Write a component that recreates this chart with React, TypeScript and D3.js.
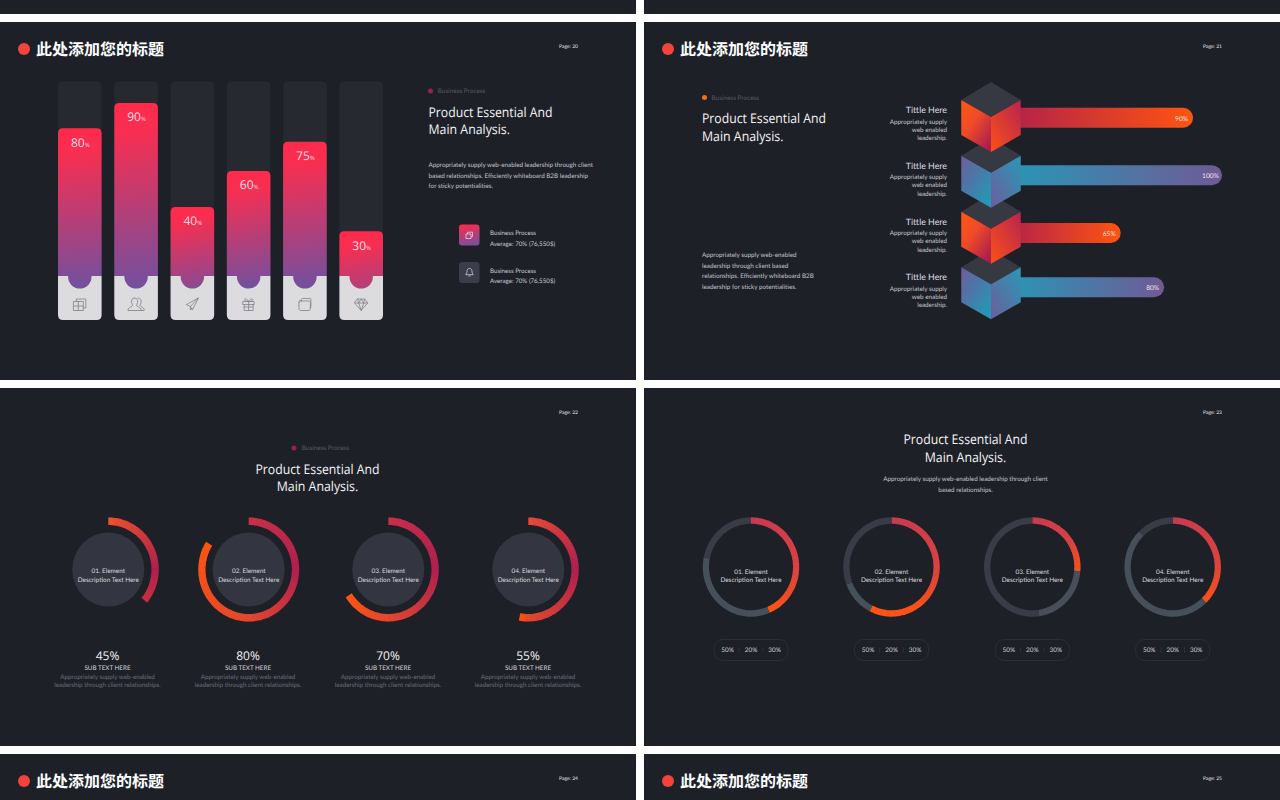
import React from "react";
import * as d3 from "d3";

const panelTitle = "此处添加您的标题";
const pageLabels = ["Page: 20", "Page: 21", "Page: 22", "Page: 23", "Page: 24", "Page: 25"];
const headline = ["Product Essential And", "Main Analysis."];
const eyebrow = "Business Process";

// Slide 20: column chart
const columnLabels = ["80", "90", "40", "60", "75", "30"];
const columnLevels = [76, 89, 35.5, 54, 69, 23];
const introLines = [
  "Appropriately supply web-enabled leadership through client",
  "based relationships. Efficiently whiteboard B2B leadership",
  "for sticky potentialities.",
];
const legendLines = ["Business Process", "Average: 70% (76,550$)"];

// Slide 21: cube bars
const cubeValues = [90, 100, 65, 80];
const cubeTitle = "Tittle Here";
const cubeDesc = ["Appropriately supply", "web enabled", "leadership."];
const sideLines = [
  "Appropriately supply web-enabled",
  "leadership through client based",
  "relationships. Efficiently whiteboard B2B",
  "leadership for sticky potentialities.",
];

// Slide 22: radial rings
const elementNames = ["01. Element", "02. Element", "03. Element", "04. Element"];
const elementDesc = "Description Text Here";
const ringLabels = ["45%", "80%", "70%", "55%"];
const ringSweeps = [36, 84, 66, 53];
const ringStartColors = ["#f2512c", "#cc3049", "#c8304a", "#e84a38"];
const subHead = "SUB TEXT HERE";
const subLines = ["Appropriately supply web-enabled", "leadership through client relationships."];

// Slide 23: segmented rings
const shareRed = [43.7, 57.5, 26.4, 37.8];
const shareSlate = [34.4, 11.8, 21.3, 49.9];
const shareDark = [21.9, 30.7, 52.3, 12.3];
const pillLabels = ["50%", "20%", "30%"];
const slide23Desc = ["Appropriately supply web-enabled leadership through client", "based relationships."];

const SANS = "'Open Sans','Noto Sans',sans-serif";
const LATO = "Lato,'Noto Sans',sans-serif";
const CJK = "'Noto Sans CJK SC','Noto Sans',sans-serif";
const BG = "#1e2028";
const HEAD_WIDTHS = [124, 81.5];

const Heading = ({ x, y }: { x: number; y: number }) => (
  <g>
    <circle cx={x + 6} cy={y} r={6} fill="#f4433c" />
    <text x={x + 18} y={y + 5.6} fontFamily={CJK} fontWeight={700} fontSize={16} fill="#fff">
      {panelTitle}
    </text>
  </g>
);

const Page = ({ x, y, t }: { x: number; y: number; t: string }) => (
  <text x={x} y={y} fontFamily={LATO} fontSize={5} fill="#e8e8ea">
    {t}
  </text>
);

const Head = ({ x, y, anchor = "start" }: { x: number; y: number; anchor?: string }) => (
  <g fontFamily={SANS} fontSize={13.4} fill="#f4f4f5" textAnchor={anchor}>
    {headline.map((t, i) => (
      <text key={i} x={x} y={y + i * 17.5} textLength={HEAD_WIDTHS[i]} lengthAdjust="spacingAndGlyphs">
        {t}
      </text>
    ))}
  </g>
);

const Eyebrow = ({ dx, x, y, color }: { dx: number; x: number; y: number; color: string }) => (
  <g>
    <circle cx={dx} cy={y} r={2.5} fill={color} />
    <text x={x} y={y + 2.2} fontFamily={LATO} fontSize={6.4} fill="#565965">
      {eyebrow}
    </text>
  </g>
);

const lerpStops = (stops: [number, string][]) =>
  d3.scaleLinear<string>().domain(stops.map((d) => d[0])).range(stops.map((d) => d[1])).interpolate(d3.interpolateRgb).clamp(true);

const GradientArc = ({
  cx, cy, r0, r1, from, to, color, sx = 1, sy = 1,
}: { cx: number; cy: number; r0: number; r1: number; from: number; to: number; color: (deg: number) => string; sx?: number; sy?: number }) => {
  const steps = Math.max(2, Math.ceil((to - from) / 3));
  const arc = d3.arc();
  const pieces = d3.range(steps).map((i) => {
    const a = from + ((to - from) * i) / steps;
    const b = from + ((to - from) * (i + 1)) / steps;
    const d = arc({
      innerRadius: r0,
      outerRadius: r1,
      startAngle: (a * Math.PI) / 180,
      endAngle: ((i === steps - 1 ? b : b + 0.6) * Math.PI) / 180,
    } as any) as string;
    return <path key={i} d={d} fill={color((a + b) / 2)} />;
  });
  return <g transform={`translate(${cx},${cy}) scale(${sx},${sy})`}>{pieces}</g>;
};

const Icon = ({ i, x, y }: { i: number; x: number; y: number }) => {
  const common = { fill: "none", stroke: "#80828a", strokeWidth: 0.8, strokeLinejoin: "round" as const, strokeLinecap: "round" as const };
  const paths = [
    "M-6,-2.5h9.5v9h-9.5zM-3.5,-2.5v-2.5h9.5v9h-2.5M-6,2h9.5M-1.5,-2.5v9",
    "M-1.5,-6c-2.5,0-3.5,2-3,4.5c.3,1.4 1,2 1,3c0,1-3,1.5-4.5,3.500v1.500h13v-1.500c-1.500-2-4.500-2.500-4.500-3.500c0-1 .7-1.600 1-3c.5-2.500-.5-4.500-3-4.500M2,-6c2.500,0 3.500,2 3,4.500c-.3,1.400-1,2-1,3c0,1 3,1.500 4,3.500v1.500h-3",
    "M6,-6L-6,0.5L-2,2.500L6,-6L0,6L-2,2.500V6L0,4",
    "M-5.500,-2.500h11v3h-11zM-4.500,.5v6h9v-6M0,-2.500v9M-4.500,3h9M0,-2.500c-1.500-3-4.500-3.500-4-1.500c.2,1 2.500,1.500 4,1.500c1.500,0 3.800-.5 4-1.500c.5-2-2.500-1.500-4,1.500",
    "M-6,-1.500c0-1 .5-1.500 1.500-1.500h8.500c1 0 1.500.5 1.500 1.500v6c0 1-.5 2-2 2h-8c-1 0-1.500-1-1.500-2zM-6,-1.500l1-2h1M-3.500,-3v-1.500c0-.5.5-1 1-1h8c.5 0 .5.500.5 1v7c0 1-.5 1.500-1 1.500",
    "M-3.500,-5h7l3,4L0,6.500L-6.500,-1zM-6.500,-1h13M-3.500,-5L-2.500,-1L0,6.500L2.500,-1L3.500,-5M-2.500,-1L0,-5L2.500,-1",
  ];
  return (
    <g transform={`translate(${x},${y})`} {...common}>
      <path d={paths[i]} />
    </g>
  );
};

const Columns = () => {
  const bandX = d3.scaleBand<number>().domain(d3.range(columnLevels.length)).range([58, 383]).paddingInner(0.225).paddingOuter(0);
  const y = d3.scaleLinear().domain([0, 100]).range([276, 81.5]);
  const bw = bandX.bandwidth();
  const r = 5;
  return (
    <g>
      <defs>
        {columnLevels.map((v, i) => {
          const top = y(v);
          const len = Math.max(y(0) - top + 12, 95);
          return (
            <linearGradient key={i} id={`col${i}`} gradientUnits="userSpaceOnUse" x1={bandX(i)! + bw * 0.3} y1={top} x2={bandX(i)! + bw * 0.7} y2={top + len}>
              <stop offset="0" stopColor="#ff2a4c" />
              <stop offset="0.15" stopColor="#f82e50" />
              <stop offset="1" stopColor="#72509f" />
            </linearGradient>
          );
        })}
      </defs>
      {columnLevels.map((v, i) => {
        const x = bandX(i)!;
        const top = y(v);
        const base = y(0);
        const mid = x + bw / 2;
        const body = `M${x},${base}V${top + r}Q${x},${top} ${x + r},${top}H${x + bw - r}Q${x + bw},${top} ${x + bw},${top + r}V${base}H${mid + 11.7}V${base + 1}A11.700,11.500 0 0 1 ${mid - 11.7},${base + 1}V${base}Z`;
        const track = `M${x},${base}V${y(100) + r}Q${x},${y(100)} ${x + r},${y(100)}H${x + bw - r}Q${x + bw},${y(100)} ${x + bw},${y(100) + r}V${base}Z`;
        const foot = `M${x},${base}H${x + bw}V${base + 44 - r}Q${x + bw},${base + 44} ${x + bw - r},${base + 44}H${x + r}Q${x},${base + 44} ${x},${base + 44 - r}Z`;
        return (
          <g key={i}>
            <path d={track} fill="#272931" />
            <path d={foot} fill="#dcdcde" />
            <path d={body} fill={`url(#col${i})`} />
            <text x={mid + 0.5} y={top + 18.5} textAnchor="middle" fontFamily={SANS} fontSize={12} fill="#f8dfe3">
              {columnLabels[i]}
              <tspan fontSize={6}>%</tspan>
            </text>
            <Icon i={i} x={mid} y={304} />
          </g>
        );
      })}
    </g>
  );
};

const LegendTile = ({ y, fill, kind }: { y: number; fill: string; kind: number }) => (
  <g>
    <rect x={459} y={y} width={20.5} height={21} rx={3} fill={fill} />
    <g transform={`translate(469.500,${y + 10.500})`} fill="none" stroke="#e8e8ea" strokeWidth={0.7}>
      <path d={kind === 0 ? "M-3.500,-1h5v4.500h-5zM-2,-1v-1.800h5v4.500h-1.500" : "M0,-4c-2,0-2.500,1.500-2.500,3c0,2-1.200,2.500-1.200,3.200h7.400c0-.7-1.200-1.200-1.200-3.200c0-1.500-.5-3-2.500-3M-1,3.500h2"} />
    </g>
    {legendLines.map((t, i) => (
      <text key={i} x={490} y={y + 10.800 + i * 10.500} fontFamily={LATO} fontSize={6.2} fill="#c9cad0">
        {t}
      </text>
    ))}
  </g>
);

const CUBE_W = 29.75;
const Cubes = () => {
  const x = d3.scaleLinear().domain([65, 100]).range([1120.7, 1222]);
  const cubeTop = [100, 155.7, 211.7, 267.3];
  const barTop = [107.7, 165.3, 223, 277.3];
  const order = d3.range(cubeValues.length).reverse();
  return (
    <g>
      <defs>
        <linearGradient id="barWarm" x1="0" x2="1" y1="0" y2="0">
          <stop offset="0" stopColor="#b0204c" />
          <stop offset="1" stopColor="#ff5410" />
        </linearGradient>
        <linearGradient id="barCool" x1="0" x2="1" y1="0" y2="0">
          <stop offset="0" stopColor="#2798b6" />
          <stop offset="1" stopColor="#6f5a95" />
        </linearGradient>
        <linearGradient id="leftWarm" x1="0" y1="0" x2="0.85" y2="1">
          <stop offset="0" stopColor="#ff5812" />
          <stop offset="0.45" stopColor="#f04a28" />
          <stop offset="1" stopColor="#a81c4e" />
        </linearGradient>
        <linearGradient id="rightWarm" x1="1" y1="0" x2="0" y2="1">
          <stop offset="0" stopColor="#b8244e" />
          <stop offset="1" stopColor="#fa5018" />
        </linearGradient>
        <linearGradient id="leftCool" x1="0" y1="0" x2="0.85" y2="1">
          <stop offset="0" stopColor="#6e5c9a" />
          <stop offset="1" stopColor="#2199b8" />
        </linearGradient>
        <linearGradient id="rightCool" x1="1" y1="0" x2="0" y2="1">
          <stop offset="0" stopColor="#2a97b6" />
          <stop offset="1" stopColor="#6c5e9a" />
        </linearGradient>
      </defs>
      {cubeValues.map((v, i) => {
        const warm = i % 2 === 0;
        return (
          <rect key={i} x={1005} y={barTop[i]} width={x(v) - 1005} height={20} rx={10} fill={warm ? "url(#barWarm)" : "url(#barCool)"} />
        );
      })}
      {order.map((i) => {
        const warm = i % 2 === 0;
        const cx = 991;
        const t = cubeTop[i];
        const h = 35;
        return (
          <g key={i}>
            <path d={`M${cx},${t - 18}L${cx + CUBE_W},${t}L${cx},${t + 17}L${cx - CUBE_W},${t}Z`} fill="#363842" />
            <path d={`M${cx - CUBE_W},${t}L${cx},${t + 17}V${t + 17 + h}L${cx - CUBE_W},${t + h}Z`} fill={warm ? "url(#leftWarm)" : "url(#leftCool)"} />
            <path d={`M${cx + CUBE_W},${t}L${cx},${t + 17}V${t + 17 + h}L${cx + CUBE_W},${t + h}Z`} fill={warm ? "url(#rightWarm)" : "url(#rightCool)"} />
          </g>
        );
      })}
      {cubeValues.map((v, i) => (
        <g key={i}>
          <text x={x(v) - 11.500} y={barTop[i] + 12.800} textAnchor="middle" fontFamily={LATO} fontSize={6.6} fill="#f3e6e2">
            {v}%
          </text>
          <g textAnchor="end" fontFamily={LATO}>
            <text x={947} y={cubeTop[i] + 13} fontSize={8.8} fill="#dcdde0">
              {cubeTitle}
            </text>
            {cubeDesc.map((t, k) => (
              <text key={k} x={947} y={cubeTop[i] + 23.500 + k * 8.200} fontSize={6.300} fill="#c6c7cc">
                {t}
              </text>
            ))}
          </g>
        </g>
      ))}
    </g>
  );
};

const Rings = () => {
  const cxs = [108.3, 248.7, 388.3, 528.3];
  const textCx = [107.5, 248, 388, 528];
  const cy = 569.5;
  const sweep = d3.scaleLinear().domain([0, 100]).range([0, 360]);
  return (
    <g>
      {ringSweeps.map((v, i) => {
        const color = lerpStops([
          [0, ringStartColors[i]],
          [90, "#b0204e"],
          [180, "#e5472e"],
          [sweep(ringSweeps[i]) > 180 ? sweep(ringSweeps[i]) : 230, "#ff5512"],
        ]);
        return (
          <g key={i}>
            <ellipse cx={cxs[i]} cy={cy} rx={36} ry={37} fill="#333540" />
            <GradientArc cx={cxs[i]} cy={cy} r0={44.500} r1={52} from={0} to={sweep(v)} color={color} sx={0.97} />
            <text x={cxs[i]} y={573} textAnchor="middle" fontFamily={LATO} fontSize={6.400} fill="#d9dade">
              {elementNames[i]}
            </text>
            <text x={cxs[i]} y={581.500} textAnchor="middle" fontFamily={LATO} fontSize={6.400} fill="#d9dade">
              {elementDesc}
            </text>
            <text x={textCx[i]} y={659.500} textAnchor="middle" fontFamily={SANS} fontSize={12} fill="#f4f4f5">
              {ringLabels[i]}
            </text>
            <text x={textCx[i]} y={669.800} textAnchor="middle" fontFamily={LATO} fontSize={6.300} fill="#d4d5d9">
              {subHead}
            </text>
            {subLines.map((t, k) => (
              <text key={k} x={textCx[i]} y={678.600 + k * 8.300} textAnchor="middle" fontFamily={LATO} fontSize={6.300} fill="#696c77">
                {t}
              </text>
            ))}
          </g>
        );
      })}
    </g>
  );
};

const Donuts = () => {
  const cxs = [751, 891.5, 1032.3, 1172.7];
  const cy = 567;
  const pie = d3.pie<number>().sort(null).value((d) => d);
  const toDeg = (a: number) => (a * 180) / Math.PI;
  return (
    <g>
      {shareRed.map((_, i) => {
        const slices = pie([shareRed[i], shareSlate[i], shareDark[i]]);
        const end = toDeg(slices[0].endAngle);
        const hot = lerpStops([
          [0, "#c93b54"],
          [Math.min(90, end * 0.6), "#da4340"],
          [Math.min(150, end), "#fb5218"],
          [Math.max(end, 151), "#ff5412"],
        ]);
        return (
          <g key={i}>
            <GradientArc cx={cxs[i]} cy={cy} r0={42} r1={48.200} from={toDeg(slices[0].startAngle)} to={end} color={hot} sy={1.03} />
            <GradientArc cx={cxs[i]} cy={cy} r0={42} r1={48.200} from={toDeg(slices[1].startAngle)} to={toDeg(slices[1].endAngle)} color={() => "#46515b"} sy={1.03} />
            <GradientArc cx={cxs[i]} cy={cy} r0={42} r1={48.200} from={toDeg(slices[2].startAngle)} to={toDeg(slices[2].endAngle)} color={() => "#3a3d47"} sy={1.03} />
            <text x={cxs[i]} y={573.500} textAnchor="middle" fontFamily={LATO} fontSize={6.400} fill="#d9dade">
              {elementNames[i]}
            </text>
            <text x={cxs[i]} y={581.700} textAnchor="middle" fontFamily={LATO} fontSize={6.400} fill="#d9dade">
              {elementDesc}
            </text>
            <rect x={cxs[i] - 37} y={639.500} width={74} height={21} rx={9} fill="none" stroke="#2c2e37" strokeWidth={1} />
            {pillLabels.map((t, k) => (
              <text key={k} x={cxs[i] + (k - 1) * 23.500} y={652.200} textAnchor="middle" fontFamily={LATO} fontSize={6.400} fill="#cdced3">
                {t}
              </text>
            ))}
            {[-1, 1].map((s) => (
              <line key={s} x1={cxs[i] + s * 11.800} x2={cxs[i] + s * 11.800} y1={647.500} y2={652.500} stroke="#3a3c46" strokeWidth={0.6} />
            ))}
          </g>
        );
      })}
    </g>
  );
};

export default function App() {
  return (
    <svg width={1280} height={800} viewBox="0 0 1280 800" textRendering="geometricPrecision" style={{ position: "fixed", left: 0, top: 0, display: "block", background: "#fff", opacity: 0.999 }}>
      {[
        [0, -344], [644, -344],
        [0, 22], [644, 22],
        [0, 388], [644, 388],
        [0, 754], [644, 754],
      ].map(([x, y], i) => (
        <rect key={i} x={x} y={y} width={636} height={358} fill={BG} />
      ))}

      <Heading x={18} y={49} />
      <Page x={559} y={48.300} t={pageLabels[0]} />
      <Columns />
      <Eyebrow dx={430.500} x={437.800} y={91} color="#a01f4a" />
      <Head x={428.500} y={116.500} />
      <g fontFamily={LATO} fontSize={6.300} fill="#c4c5ca">
        {introLines.map((t, i) => (
          <text key={i} x={428.500} y={167.300 + i * 10.500}>
            {t}
          </text>
        ))}
      </g>
      <defs>
        <linearGradient id="tile" x1="0.4" y1="0" x2="0.6" y2="1">
          <stop offset="0" stopColor="#f72c50" />
          <stop offset="1" stopColor="#7a4f9a" />
        </linearGradient>
      </defs>
      <LegendTile y={224.500} fill="url(#tile)" kind={0} />
      <LegendTile y={262} fill="#3a3d4a" kind={1} />

      <Heading x={662} y={49} />
      <Page x={1203} y={48.300} t={pageLabels[1]} />
      <Eyebrow dx={704.500} x={711.500} y={97.500} color="#f07015" />
      <Head x={702} y={123} />
      <g fontFamily={LATO} fontSize={6.300} fill="#c4c5ca">
        {sideLines.map((t, i) => (
          <text key={i} x={702} y={257.300 + i * 10.500}>
            {t}
          </text>
        ))}
      </g>
      <Cubes />

      <Page x={559} y={414.300} t={pageLabels[2]} />
      <Eyebrow dx={294} x={301.800} y={448} color="#a01f4a" />
      <Head x={317.500} y={473.500} anchor="middle" />
      <Rings />

      <Page x={1203} y={414.300} t={pageLabels[3]} />
      <Head x={965.500} y={444} anchor="middle" />
      <g fontFamily={LATO} fontSize={6.300} fill="#c4c5ca" textAnchor="middle">
        {slide23Desc.map((t, i) => (
          <text key={i} x={965.500} y={481 + i * 10.500}>
            {t}
          </text>
        ))}
      </g>
      <Donuts />

      <Heading x={18} y={781} />
      <Page x={559} y={780.300} t={pageLabels[4]} />
      <Heading x={662} y={781} />
      <Page x={1203} y={780.300} t={pageLabels[5]} />
    </svg>
  );
}
